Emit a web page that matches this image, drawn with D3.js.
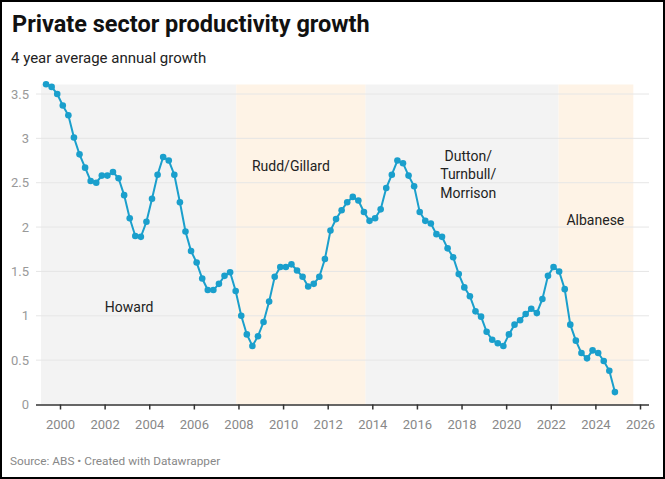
<!DOCTYPE html>
<html>
<head>
<meta charset="utf-8">
<script src="https://cdn.jsdelivr.net/npm/d3@7"></script>
<style>
  html, body { margin: 0; padding: 0; background: #fff; }
  svg { display: block; font-family: Roboto, "Noto Sans", sans-serif; }
</style>
</head>
<body>
<div id="chart"></div>
<script>
// quarterly, 4 year average annual growth (%), starting mid 1999
const startYear = 1999.375;
const growth = [
  3.61, 3.58, 3.50, 3.37, 3.26, 3.01, 2.82, 2.67, 2.52, 2.50,
  2.58, 2.58, 2.62, 2.55, 2.36, 2.10, 1.90, 1.89, 2.06, 2.32,
  2.59, 2.79, 2.75, 2.59, 2.28, 1.95, 1.73, 1.60, 1.42, 1.29,
  1.29, 1.36, 1.45, 1.49, 1.28, 1.00, 0.79, 0.66, 0.77, 0.93,
  1.16, 1.44, 1.55, 1.55, 1.58, 1.51, 1.44, 1.33, 1.36, 1.44,
  1.64, 1.96, 2.09, 2.19, 2.28, 2.34, 2.30, 2.17, 2.07, 2.10,
  2.20, 2.44, 2.59, 2.75, 2.72, 2.58, 2.46, 2.17, 2.07, 2.04,
  1.92, 1.89, 1.76, 1.66, 1.47, 1.32, 1.22, 1.05, 0.99, 0.82,
  0.73, 0.69, 0.66, 0.79, 0.90, 0.95, 1.02, 1.08, 1.03, 1.19,
  1.45, 1.55, 1.50, 1.30, 0.90, 0.72, 0.58, 0.52, 0.61, 0.58,
  0.49, 0.38, 0.14
];

// governments
const govNames = ["Howard", "Rudd/Gillard", "Dutton/\nTurnbull/\nMorrison", "Albanese"];
const govStart = [1999.15, 2007.9, 2013.7, 2022.35];
const govEnd = [2007.9, 2013.7, 2022.35, 2025.7];
const govLabelX = [2003.1, 2010.35, 2018.3, 2024.0];
const govLabelY = [1.1, 2.69, 2.8, 2.08];

const xTicks = d3.range(2000, 2027, 2);
const yTicks = [0, 0.5, 1, 1.5, 2, 2.5, 3, 3.5];

const data = growth.map((v, i) => ({x: startYear + i * 0.25, y: v}));

const W = 665, H = 479;
const svg = d3.select("#chart").append("svg")
  .attr("width", W).attr("height", H);

svg.append("rect")
  .attr("x", 1).attr("y", 1).attr("width", W - 2).attr("height", H - 2)
  .attr("fill", "#fff").attr("stroke", "#000").attr("stroke-width", 2);

svg.append("text")
  .attr("x", 12).attr("y", 32)
  .attr("font-size", 23.5).attr("font-weight", 700).attr("fill", "#111")
  .text("Private sector productivity growth");

svg.append("text")
  .attr("x", 11).attr("y", 63)
  .attr("font-size", 15).attr("fill", "#222")
  .text("4 year average annual growth");

svg.append("text")
  .attr("x", 10).attr("y", 465)
  .attr("font-size", 11.8).attr("fill", "#888")
  .text("Source: ABS \u2022 Created with Datawrapper");

const x = d3.scaleLinear().domain([2000, 2026]).range([60, 640]);
const y = d3.scaleLinear().domain([0, 3.5]).range([404.5, 94]);

const plotLeft = 36, plotRight = 649, plotTop = 84.5;

// shaded government periods
svg.append("g").selectAll("rect")
  .data(govNames)
  .join("rect")
  .attr("x", (d, i) => x(govStart[i]))
  .attr("width", (d, i) => x(govEnd[i]) - x(govStart[i]))
  .attr("y", plotTop)
  .attr("height", y(0) - plotTop)
  .attr("fill", (d, i) => i % 2 === 0 ? "#f3f3f3" : "#fef3e6");

// grid
svg.append("g").selectAll("line")
  .data(yTicks.filter(d => d > 0))
  .join("line")
  .attr("x1", plotLeft).attr("x2", plotRight)
  .attr("y1", d => y(d)).attr("y2", d => y(d))
  .attr("stroke", "#e6e6e6").attr("stroke-width", 1);

// y labels
svg.append("g").selectAll("text")
  .data(yTicks)
  .join("text")
  .attr("x", 29).attr("y", d => y(d) + 4.5)
  .attr("text-anchor", "end")
  .attr("font-size", 13).attr("fill", "#999")
  .text(d => d);

// x axis
const xAxis = d3.axisBottom(x).tickValues(xTicks).tickSize(5).tickFormat(d3.format("d"));
const gx = svg.append("g")
  .attr("transform", `translate(0,${y(0)})`)
  .call(xAxis);
gx.select(".domain").attr("d", `M${plotLeft},0.5H${plotRight}`).attr("stroke", "#333").attr("stroke-width", 1.5);
gx.selectAll(".tick line").attr("stroke", "#333").attr("stroke-width", 1.5);
gx.selectAll(".tick text")
  .attr("dy", 0).attr("y", 24)
  .attr("font-family", "Roboto, sans-serif").attr("font-size", 13).attr("fill", "#888");

// labels for periods
govNames.forEach((name, i) => {
  const lines = name.split("\n");
  const t = svg.append("text")
    .attr("text-anchor", "middle")
    .attr("font-size", 14).attr("fill", "#222");
  lines.forEach((ln, j) => {
    t.append("tspan")
      .attr("x", x(govLabelX[i]))
      .attr("y", y(govLabelY[i]) + 5 + j * 18.3)
      .text(ln);
  });
});

// line and dots
const line = d3.line().x(d => x(d.x)).y(d => y(d.y));
svg.append("path")
  .datum(data)
  .attr("d", line)
  .attr("fill", "none")
  .attr("stroke", "#1a9fcc")
  .attr("stroke-width", 2);

svg.append("g").selectAll("circle")
  .data(data)
  .join("circle")
  .attr("cx", d => x(d.x)).attr("cy", d => y(d.y))
  .attr("r", 3.3)
  .attr("fill", "#1a9fcc");
</script>
</body>
</html>
